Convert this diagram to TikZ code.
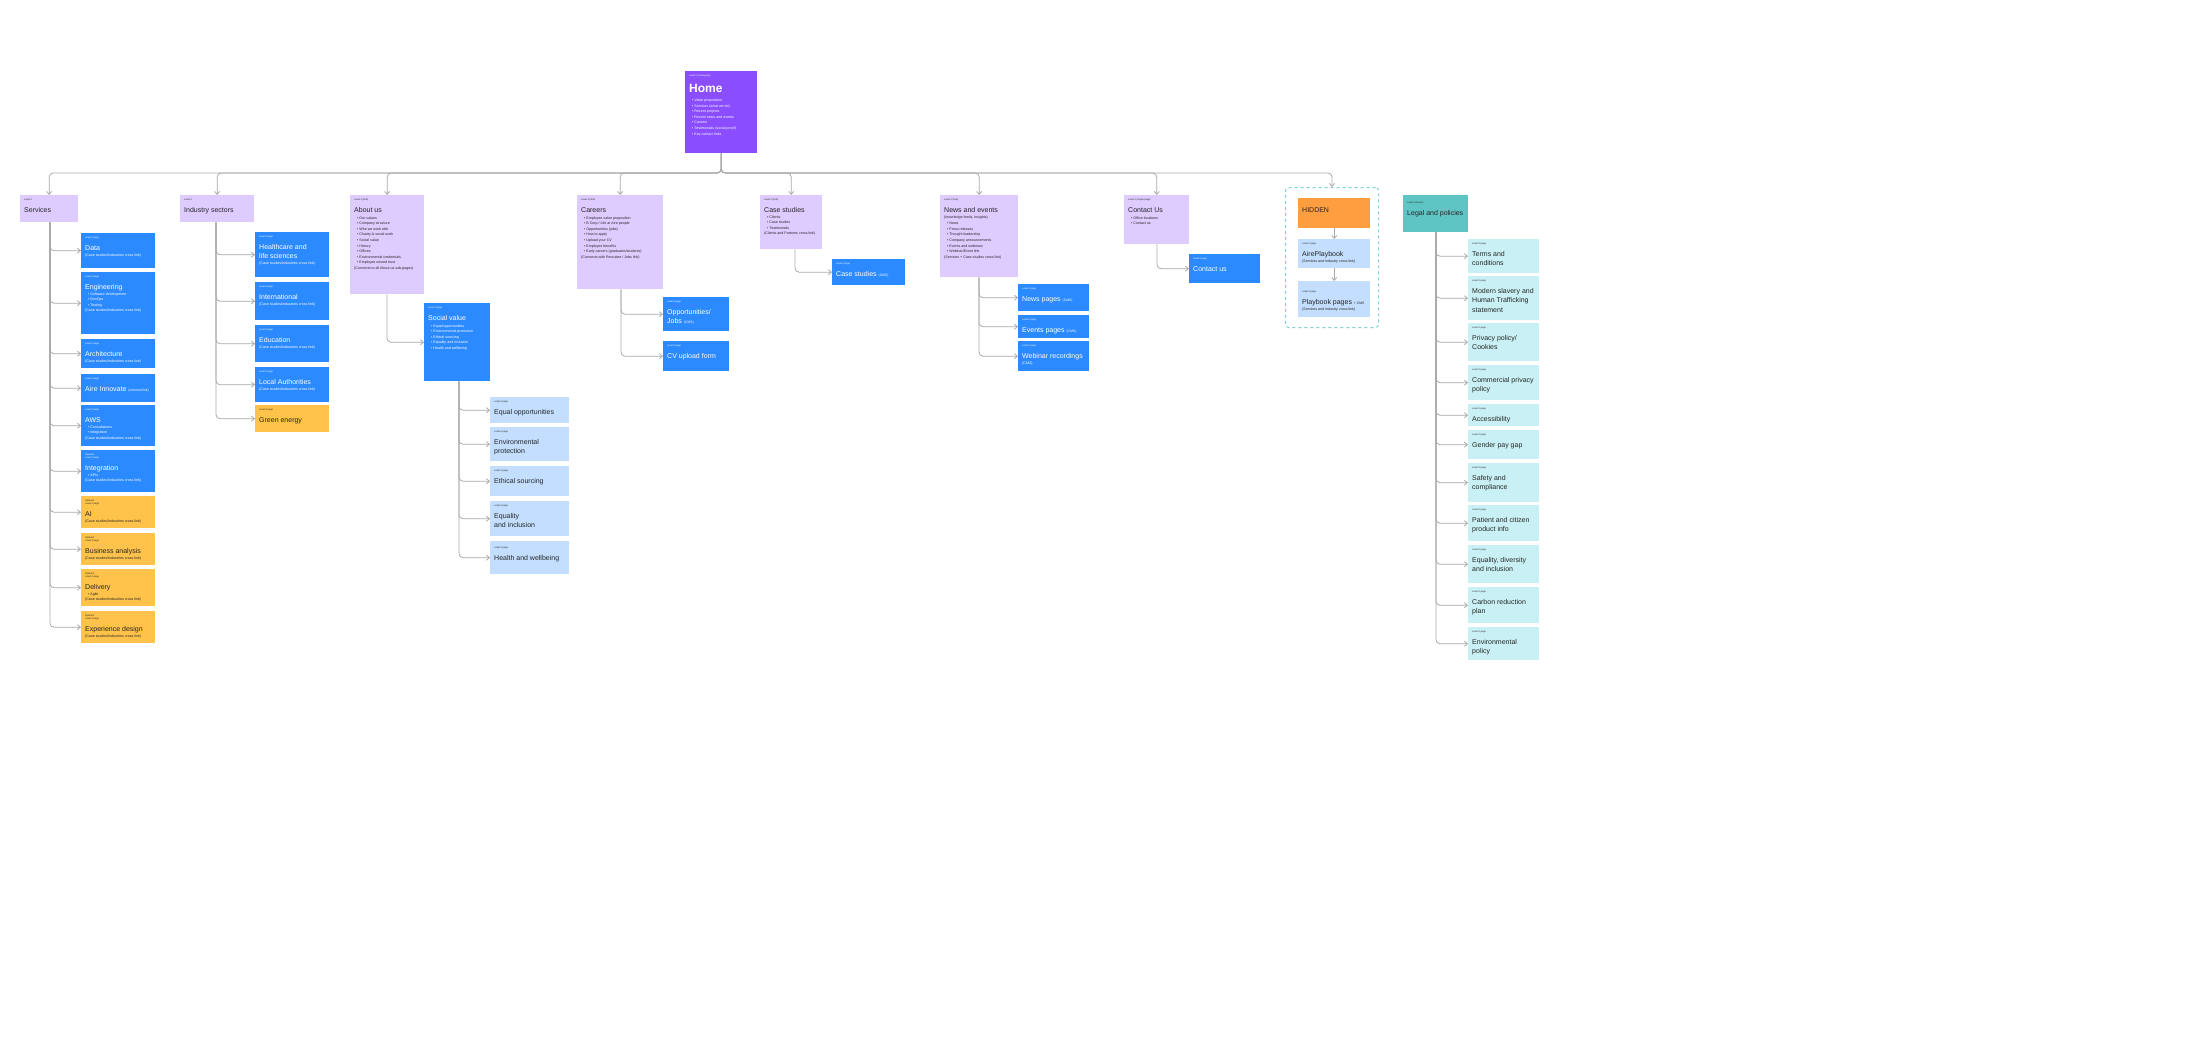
\documentclass[tikz,border=0pt]{standalone}
\usepackage{fontspec}
\setmainfont{Liberation Sans}
\usetikzlibrary{arrows.meta}
\definecolor{homec}{HTML}{8A4DFF}
\definecolor{lvone}{HTML}{DECBFF}
\definecolor{blu}{HTML}{2B8AFF}
\definecolor{org}{HTML}{FFC24A}
\definecolor{lblu}{HTML}{C3DEFF}
\definecolor{tealc}{HTML}{5FC4C4}
\definecolor{lcyan}{HTML}{C9F1F5}
\definecolor{hid}{HTML}{FF9E40}
\definecolor{lnc}{HTML}{AAAAAA}
\newcommand\tg[1]{{\fontsize{2.4}{3}\selectfont #1\par}\vspace{2pt}}
\newcommand\ttl[1]{{\fontsize{7}{9.5}\selectfont #1\par}}
\newcommand\bd[1]{{\fontsize{3.6}{5.6}\selectfont #1\par}}
\newcommand\bl[1]{{\fontsize{3.6}{5.6}\selectfont\hspace*{3pt}\textbullet\ #1\par}}
\newcommand\card[7]{\node[#6,anchor=north west,inner sep=4pt,minimum width=#4pt,minimum height=#5pt] (#1) at (#2,#3) {\parbox[t][\dimexpr #5pt-8pt\relax][t]{\dimexpr #4pt-8pt\relax}{\lineskiplimit=-10pt #7}};}
\tikzset{
 pk/.style={fill=homec,text=white},
 l1/.style={fill=lvone,text=black!85},
 bb/.style={fill=blu,text=white},
 ob/.style={fill=org,text=black!85},
 lb/.style={fill=lblu,text=black!85},
 tb/.style={fill=tealc,text=black!85},
 cb/.style={fill=lcyan,text=black!85},
 hb/.style={fill=hid,text=black!85},
 conn/.style={draw=lnc,line width=0.8pt,rounded corners=4pt,-{Straight Barb[length=3pt,width=5pt]}},
}
\begin{document}
\begin{tikzpicture}[x=1pt,y=-1pt]
\useasboundingbox[fill=white] (0,0) rectangle (2194,1060);
% home
\card{home}{685}{71}{72}{82}{pk}{\tg{Level 0 (homepage)}{\fontsize{12}{14}\selectfont\bfseries Home\par}\vspace{3pt}\bl{Value proposition}\bl{Services (what we do)}\bl{Recent projects}\bl{Recent news and events}\bl{Careers}\bl{Testimonials (social proof)}\bl{Key contact links}}
% level 1
\card{services}{20}{195}{58}{27}{l1}{\tg{Level 1}\ttl{Services}}
\card{industry}{180}{195}{74}{27}{l1}{\tg{Level 1}\ttl{Industry sectors}}
\card{about}{350}{195}{74}{99}{l1}{\tg{Level 1 (hub)}\ttl{About us}\vspace{1pt}\bl{Our values}\bl{Company structure}\bl{Who we work with}\bl{Charity \& social work}\bl{Social value}\bl{History}\bl{Offices}\bl{Environmental credentials}\bl{Employee owned trust}\bd{(Connects to all About us sub-pages)}}
\card{careers}{577}{195}{86}{94}{l1}{\tg{Level 1 (hub)}\ttl{Careers}\vspace{1pt}\bl{Employee value proposition}\bl{B Corp / Life at Aire people}\bl{Opportunities (jobs)}\bl{How to apply}\bl{Upload your CV}\bl{Employee benefits}\bl{Early careers (graduates/students)}\bd{(Connects with Recruitee / Jobs link)}}
\card{cases}{760}{195}{62}{54}{l1}{\tg{Level 1 (hub)}\ttl{Case studies}\bl{Clients}\bl{Case studies}\bl{Testimonials}\bd{(Clients and Partners cross link)}}
\card{news}{940}{195}{78}{82}{l1}{\tg{Level 1 (hub)}\ttl{News and events}\bd{(knowledge feeds, insights)}\vspace{1pt}\bl{News}\bl{Press releases}\bl{Thought leadership}\bl{Company announcements}\bl{Events and webinars}\bl{Webinar/Event link}\bd{(Services + Case studies cross link)}}
\card{contact}{1124}{195}{65}{49}{l1}{\tg{Level 1 (single page)}\ttl{Contact Us}\vspace{1pt}\bl{Office locations}\bl{Contact us}}
\node[draw=tealc!80,dashed,line width=1pt,rounded corners=3pt,minimum width=93pt,minimum height=140pt,anchor=north west] (hidgrp) at (1285,187) {};
\card{hidden}{1298}{198}{72}{30}{hb}{\vspace{5pt}\ttl{HIDDEN}}
\card{aireplay}{1298}{239}{72}{29}{lb}{\tg{Level 2 page}\ttl{AirePlaybook}\bd{(Services and Industry cross link)}}
\card{playpages}{1298}{281}{72}{36}{lb}{\vspace{6pt}\tg{Level 3 page}\ttl{Playbook pages {\fontsize{3.4}{4}\selectfont + CMS}}\bd{(Services and Industry cross link)}}
\card{legal}{1403}{195}{65}{37}{tb}{\vspace{3pt}\tg{Level 1 (footer)}\ttl{Legal and policies}}
% bus
\coordinate (bus) at (0,173);
\foreach \c in {services,industry,about,careers,cases,news,contact,hidgrp}
  \draw[conn] (home.south) -- (home.south |- bus) -| (\c.north);
\draw[conn] (hidden.south) -- (aireplay.north);
\draw[conn] (aireplay.south) -- (playpages.north);
% services children
\card{data}{81}{233}{74}{35}{bb}{\tg{Level 2 page}\ttl{Data}\bd{(Case studies/Industries cross link)}}
\card{eng}{81}{272}{74}{62}{bb}{\tg{Level 2 page}\ttl{Engineering}\bl{Software development}\bl{DevOps}\bl{Testing}\bd{(Case studies/Industries cross link)}}
\card{arch}{81}{339}{74}{29}{bb}{\tg{Level 2 page}\ttl{Architecture}\bd{(Case studies/Industries cross link)}}
\card{innov}{81}{374}{74}{28}{bb}{\tg{Level 2 page}\ttl{Aire Innovate {\fontsize{3.4}{4}\selectfont (external link)}}}
\card{aws}{81}{405}{74}{41}{bb}{\tg{Level 2 page}\ttl{AWS}\bl{Consultations}\bl{Integration}\bd{(Case studies/Industries cross link)}}
\card{integ}{81}{450}{74}{42}{bb}{\tg{Optional\\Level 2 page}\ttl{Integration}\bl{APIs}\bd{(Case studies/Industries cross link)}}
\card{ai}{81}{496}{74}{32}{ob}{\tg{Optional\\Level 2 page}\ttl{AI}\bd{(Case studies/Industries cross link)}}
\card{ba}{81}{533}{74}{32}{ob}{\tg{Optional\\Level 2 page}\ttl{Business analysis}\bd{(Case studies/Industries cross link)}}
\card{deliv}{81}{569}{74}{37}{ob}{\tg{Optional\\Level 2 page}\ttl{Delivery}\bl{Agile}\bd{(Case studies/Industries cross link)}}
\card{xd}{81}{611}{74}{32}{ob}{\tg{Optional\\Level 2 page}\ttl{Experience design}\bd{(Case studies/Industries cross link)}}
\foreach \c in {data,eng,arch,innov,aws,integ,ai,ba,deliv,xd}
  \draw[conn] (services.south -| 50,0) |- (\c.west);
% industry children
\card{health}{255}{232}{74}{45}{bb}{\tg{Level 2 page}\ttl{Healthcare and\\life sciences}\bd{(Case studies/Industries cross link)}}
\card{intl}{255}{282}{74}{38}{bb}{\tg{Level 2 page}\ttl{International}\bd{(Case studies/Industries cross link)}}
\card{edu}{255}{325}{74}{37}{bb}{\tg{Level 2 page}\ttl{Education}\bd{(Case studies/Industries cross link)}}
\card{local}{255}{367}{74}{35}{bb}{\tg{Level 2 page}\ttl{Local Authorities}\bd{(Case studies/Industries cross link)}}
\card{green}{255}{405}{74}{27}{ob}{\tg{Level 2 page}\ttl{Green energy}}
\foreach \c in {health,intl,edu,local,green}
  \draw[conn] (industry.south -| 216,0) |- (\c.west);
% about children
\card{social}{424}{303}{66}{78}{bb}{\tg{Level 2 page}\ttl{Social value}\vspace{1pt}\bl{Equal opportunities}\bl{Environmental protection}\bl{Ethical sourcing}\bl{Equality and inclusion}\bl{Health and wellbeing}}
\draw[conn] (about.south -| 387,0) |- (social.west);
\card{eqop}{490}{397}{79}{26}{lb}{\tg{Level 3 page}\ttl{Equal opportunities}}
\card{env}{490}{427}{79}{34}{lb}{\tg{Level 3 page}\ttl{Environmental\\protection}}
\card{eth}{490}{466}{79}{30}{lb}{\tg{Level 3 page}\ttl{Ethical sourcing}}
\card{eqin}{490}{501}{79}{35}{lb}{\tg{Level 3 page}\ttl{Equality\\and inclusion}}
\card{hw}{490}{541}{79}{33}{lb}{\vspace{2pt}\tg{Level 3 page}\ttl{Health and wellbeing}}
\foreach \c in {eqop,env,eth,eqin,hw}
  \draw[conn] (social.south -| 459,0) |- (\c.west);
% careers children
\card{jobs}{663}{297}{66}{34}{bb}{\tg{Level 2 page}\ttl{Opportunities/\\Jobs {\fontsize{3.4}{4}\selectfont (CMS)}}}
\card{cv}{663}{341}{66}{30}{bb}{\tg{Level 2 page}\ttl{CV upload form}}
\foreach \c in {jobs,cv}
  \draw[conn] (careers.south -| 621,0) |- (\c.west);
% case studies child
\card{casep}{832}{259}{73}{26}{bb}{\tg{Level 2 page}\ttl{Case studies {\fontsize{3.4}{4}\selectfont (CMS)}}}
\draw[conn] (cases.south -| 795,0) |- (casep.west);
% news children
\card{newsp}{1018}{284}{71}{27}{bb}{\tg{Level 2 page}\ttl{News pages {\fontsize{3.4}{4}\selectfont (CMS)}}}
\card{evp}{1018}{315}{71}{23}{bb}{\tg{Level 2 page}\ttl{Events pages {\fontsize{3.4}{4}\selectfont (CMS)}}}
\card{web}{1018}{341}{71}{30}{bb}{\tg{Level 2 page}\ttl{Webinar recordings}\bd{(CMS)}}
\foreach \c in {newsp,evp,web}
  \draw[conn] (news.south -| 979,0) |- (\c.west);
% contact child
\card{contp}{1189}{254}{71}{29}{bb}{\tg{Level 2 page}\ttl{Contact us}}
\draw[conn] (contact.south -| 1157,0) |- (contp.west);
% legal children
\card{terms}{1468}{239}{71}{34}{cb}{\tg{Level 2 page}\ttl{Terms and\\conditions}}
\card{slav}{1468}{276}{71}{44}{cb}{\tg{Level 2 page}\ttl{Modern slavery and\\Human Trafficking\\statement}}
\card{priv}{1468}{323}{71}{38}{cb}{\tg{Level 2 page}\ttl{Privacy policy/\\Cookies}}
\card{comm}{1468}{365}{71}{35}{cb}{\tg{Level 2 page}\ttl{Commercial privacy\\policy}}
\card{acc}{1468}{404}{71}{22}{cb}{\tg{Level 2 page}\ttl{Accessibility}}
\card{gender}{1468}{430}{71}{29}{cb}{\tg{Level 2 page}\ttl{Gender pay gap}}
\card{safety}{1468}{463}{71}{39}{cb}{\tg{Level 2 page}\ttl{Safety and\\compliance}}
\card{patient}{1468}{505}{71}{36}{cb}{\tg{Level 2 page}\ttl{Patient and citizen\\product info}}
\card{edi}{1468}{545}{71}{38}{cb}{\tg{Level 2 page}\ttl{Equality, diversity\\and inclusion}}
\card{carbon}{1468}{587}{71}{36}{cb}{\tg{Level 2 page}\ttl{Carbon reduction\\plan}}
\card{envp}{1468}{627}{71}{33}{cb}{\tg{Level 2 page}\ttl{Environmental\\policy}}
\foreach \c in {terms,slav,priv,comm,acc,gender,safety,patient,edi,carbon,envp}
  \draw[conn] (legal.south -| 1436,0) |- (\c.west);
\end{tikzpicture}
\end{document}
